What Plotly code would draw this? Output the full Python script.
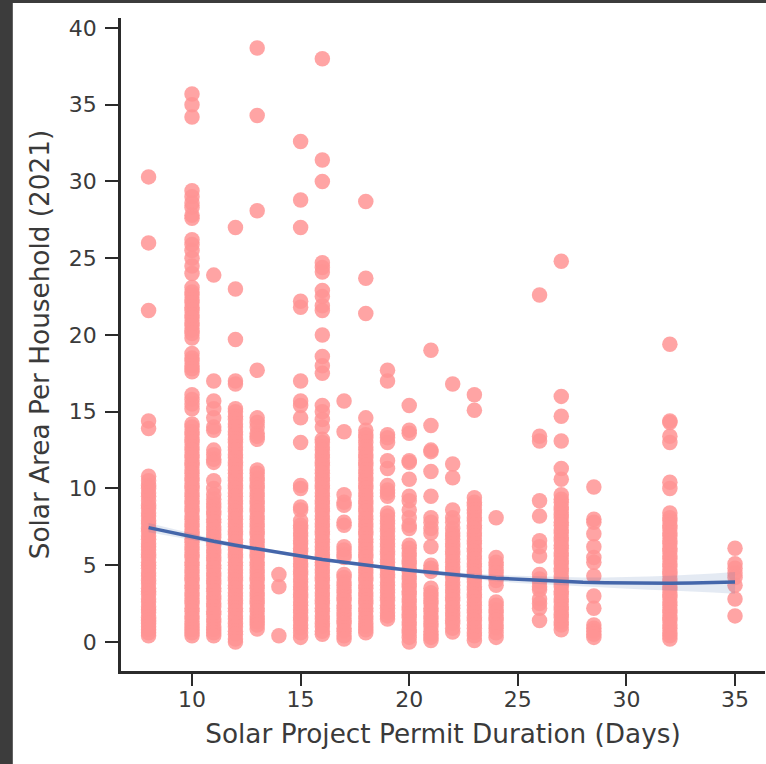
import plotly.graph_objects as go

durations = [8, 10, 11, 12, 13, 14, 15, 16, 17, 18, 19, 20, 21, 22, 23, 24, 26, 27, 28.5, 32, 35]

area_8 = [30.3, 26.0, 21.6, 14.4, 13.9, 10.8, 10.5, 10.2, 10.0, 9.7, 9.5, 9.2, 8.9, 8.7, 8.4, 8.2, 7.9, 7.7, 7.4, 7.2, 6.9, 6.7, 6.4, 6.2, 6.0, 5.7, 5.5, 5.2, 5.0, 4.8, 4.5, 4.3, 4.0, 3.8, 3.5, 3.3, 3.1, 2.8, 2.6, 2.3, 2.1, 1.9, 1.6, 1.4, 1.2, 1.0, 0.8, 0.6, 0.4]
area_10 = [35.7, 35.0, 34.2, 29.4, 29.0, 28.6, 28.3, 27.8, 27.6, 26.2, 25.9, 25.5, 25.0, 24.5, 24.0, 23.1, 22.8, 22.6, 22.3, 22.1, 21.8, 21.6, 21.3, 21.1, 20.8, 20.6, 20.3, 20.1, 19.8, 18.8, 18.5, 18.3, 18.0, 17.8, 17.6, 16.1, 15.8, 15.5, 15.2, 14.2, 14.0, 13.7, 13.5, 13.2, 13.0, 12.7, 12.5, 12.2, 12.0, 11.7, 11.5, 11.2, 11.0, 10.7, 10.5, 10.2, 10.0, 9.7, 9.5, 9.2, 9.0, 8.7, 8.5, 8.2, 8.0, 7.7, 7.5, 7.2, 7.0, 6.7, 6.5, 6.2, 6.0, 5.7, 5.5, 5.2, 5.0, 4.7, 4.5, 4.2, 4.0, 3.7, 3.5, 3.2, 3.0, 2.7, 2.5, 2.2, 2.0, 1.7, 1.5, 1.2, 1.0, 0.8, 0.6, 0.4]
area_11 = [23.9, 17.0, 15.7, 15.2, 14.6, 14.0, 13.8, 12.5, 12.2, 11.9, 11.7, 10.5, 10.0, 9.6, 9.3, 9.0, 8.8, 8.5, 8.3, 8.0, 7.8, 7.5, 7.3, 7.0, 6.8, 6.5, 6.3, 6.0, 5.8, 5.5, 5.3, 5.0, 4.8, 4.5, 4.3, 4.0, 3.8, 3.5, 3.3, 3.0, 2.8, 2.5, 2.3, 2.0, 1.8, 1.5, 1.3, 1.0, 0.8, 0.6, 0.4]
area_12 = [27.0, 23.0, 19.7, 17.0, 16.8, 15.2, 15.0, 14.7, 14.5, 14.2, 14.0, 13.7, 13.5, 13.2, 13.0, 12.7, 12.5, 12.2, 12.0, 11.7, 11.5, 11.2, 11.0, 10.7, 10.5, 10.2, 10.0, 9.7, 9.5, 9.2, 9.0, 8.7, 8.5, 8.2, 8.0, 7.7, 7.5, 7.2, 7.0, 6.7, 6.5, 6.2, 6.0, 5.7, 5.5, 5.2, 5.0, 4.7, 4.5, 4.2, 4.0, 3.7, 3.5, 3.2, 3.0, 2.7, 2.5, 2.2, 2.0, 1.7, 1.5, 1.2, 1.0, 0.7, 0.5, 0.2, 0.0]
area_13 = [38.7, 34.3, 28.1, 17.7, 14.6, 14.3, 14.0, 13.6, 13.4, 13.2, 11.2, 11.0, 10.7, 10.5, 10.2, 10.0, 9.7, 9.5, 9.2, 9.0, 8.7, 8.5, 8.2, 8.0, 7.7, 7.5, 7.2, 7.0, 6.7, 6.5, 6.2, 6.0, 5.7, 5.5, 5.2, 5.0, 4.7, 4.5, 4.2, 4.0, 3.7, 3.5, 3.2, 3.0, 2.7, 2.5, 2.2, 2.0, 1.7, 1.5, 1.3, 1.1, 0.85]
area_14 = [4.4, 3.6, 0.4]
area_15 = [32.6, 28.8, 27.0, 22.2, 21.8, 17.0, 15.7, 15.4, 14.6, 13.0, 10.2, 10.0, 8.8, 8.6, 7.9, 7.6, 7.4, 7.1, 6.9, 6.6, 6.4, 6.1, 5.9, 5.6, 5.4, 5.1, 4.9, 4.6, 4.4, 4.1, 3.9, 3.6, 3.4, 3.1, 2.9, 2.6, 2.4, 2.1, 1.9, 1.6, 1.4, 1.1, 0.9, 0.6, 0.3]
area_16 = [38.0, 31.4, 30.0, 24.7, 24.4, 24.1, 22.9, 22.5, 21.9, 21.6, 20.0, 18.6, 18.0, 17.5, 15.4, 15.0, 14.5, 14.0, 13.2, 13.0, 12.7, 12.5, 12.2, 12.0, 11.7, 11.5, 11.2, 11.0, 10.7, 10.5, 10.2, 10.0, 9.7, 9.5, 9.2, 9.0, 8.7, 8.5, 8.2, 8.0, 7.7, 7.5, 7.2, 7.0, 6.7, 6.5, 6.2, 6.0, 5.7, 5.5, 5.2, 5.0, 4.7, 4.5, 4.2, 4.0, 3.7, 3.5, 3.2, 3.0, 2.7, 2.5, 2.2, 2.0, 1.7, 1.5, 1.2, 1.0, 0.7, 0.5]
area_17 = [15.7, 13.7, 9.6, 9.1, 8.9, 7.8, 7.6, 6.2, 6.0, 5.7, 5.5, 4.4, 4.2, 3.9, 3.7, 3.4, 3.2, 2.9, 2.7, 2.4, 2.2, 1.9, 1.7, 1.4, 1.2, 0.9, 0.7, 0.4, 0.2]
area_18 = [28.7, 23.7, 21.4, 14.6, 13.8, 13.5, 13.3, 13.0, 12.7, 12.5, 12.2, 12.0, 11.7, 11.5, 11.2, 11.0, 10.7, 10.5, 10.2, 10.0, 9.7, 9.5, 9.2, 9.0, 8.7, 8.5, 8.2, 8.0, 7.7, 7.5, 7.2, 7.0, 6.7, 6.5, 6.2, 6.0, 5.7, 5.5, 5.2, 5.0, 4.7, 4.5, 4.2, 4.0, 3.7, 3.5, 3.2, 3.0, 2.7, 2.5, 2.2, 2.0, 1.7, 1.5, 1.2, 1.0, 0.8, 0.6]
area_19 = [17.7, 17.0, 13.5, 13.3, 13.0, 11.8, 11.3, 10.2, 9.9, 9.7, 9.5, 8.4, 8.2, 7.9, 7.7, 7.4, 7.2, 6.9, 6.7, 6.4, 6.2, 5.9, 5.7, 5.4, 5.2, 4.9, 4.7, 4.4, 4.2, 3.9, 3.7, 3.4, 3.2, 2.9, 2.7, 2.4, 2.2, 1.9, 1.7, 1.5]
area_20 = [15.4, 13.8, 13.6, 11.8, 11.7, 10.6, 9.5, 9.2, 8.6, 8.1, 7.6, 7.4, 6.3, 6.1, 5.8, 5.6, 5.3, 5.1, 4.8, 4.6, 4.3, 4.1, 3.8, 3.6, 3.3, 3.1, 2.8, 2.6, 2.3, 2.1, 1.8, 1.6, 1.3, 1.1, 0.8, 0.6, 0.3, 0.0]
area_21 = [19.0, 14.1, 12.5, 12.4, 11.1, 9.5, 8.1, 7.8, 7.4, 7.1, 6.2, 5.0, 4.8, 4.6, 3.5, 3.2, 3.0, 2.7, 2.5, 2.2, 2.0, 1.7, 1.5, 1.2, 1.0, 0.7, 0.5, 0.3, 0.1]
area_22 = [16.8, 11.6, 10.7, 8.6, 8.1, 7.8, 7.4, 7.1, 6.9, 6.7, 6.4, 6.2, 5.9, 5.7, 5.4, 5.2, 4.9, 4.7, 4.4, 4.2, 3.9, 3.7, 3.4, 3.2, 2.9, 2.7, 2.4, 2.2, 1.9, 1.7, 1.4, 1.2, 0.9, 0.65]
area_23 = [16.1, 15.1, 9.4, 9.1, 8.9, 8.6, 8.4, 8.1, 7.9, 7.6, 7.4, 7.1, 6.9, 6.6, 6.4, 6.1, 5.9, 5.6, 5.4, 5.1, 4.9, 4.6, 4.4, 4.1, 3.9, 3.6, 3.4, 3.1, 2.9, 2.6, 2.4, 2.1, 1.9, 1.6, 1.4, 1.1, 0.9, 0.6, 0.4, 0.1]
area_24 = [8.1, 5.5, 5.2, 5.0, 4.7, 4.5, 4.2, 4.0, 3.7, 2.6, 2.4, 2.1, 1.9, 1.6, 1.4, 1.1, 0.9, 0.6, 0.3]
area_26 = [22.6, 13.4, 13.1, 9.2, 8.2, 6.6, 6.2, 5.6, 4.4, 4.1, 3.9, 3.6, 3.4, 2.8, 2.5, 2.2, 1.4]
area_27 = [24.8, 16.0, 14.7, 13.1, 11.3, 10.6, 9.6, 9.3, 9.1, 8.8, 8.6, 8.3, 8.1, 7.8, 7.6, 7.3, 7.1, 6.8, 6.6, 6.3, 6.1, 5.8, 5.6, 5.3, 5.1, 4.8, 4.6, 4.3, 4.1, 3.8, 3.6, 3.3, 3.1, 2.8, 2.6, 2.3, 2.1, 1.8, 1.6, 1.3, 1.1, 0.8]
area_28_5 = [10.1, 8.0, 7.8, 7.05, 6.2, 5.5, 5.2, 4.3, 3.0, 2.2, 1.1, 0.9, 0.7, 0.5, 0.3]
area_32 = [19.4, 14.4, 14.3, 13.4, 13.0, 10.4, 10.0, 8.4, 8.1, 7.9, 7.6, 7.4, 7.1, 6.9, 6.6, 6.4, 6.1, 5.9, 5.6, 5.4, 5.1, 4.9, 4.6, 4.4, 4.1, 3.9, 3.6, 3.4, 3.1, 2.9, 2.6, 2.4, 2.1, 1.9, 1.6, 1.4, 1.1, 0.9, 0.6, 0.4, 0.2]
area_35 = [6.1, 5.1, 4.8, 4.5, 4.2, 3.7, 2.8, 1.7]

columns = [area_8, area_10, area_11, area_12, area_13, area_14, area_15, area_16, area_17, area_18, area_19,
           area_20, area_21, area_22, area_23, area_24, area_26, area_27, area_28_5, area_32, area_35]

fit_x = [8, 9, 10, 11, 12, 13, 14, 15, 16, 17, 18, 19, 20, 21, 22, 23, 24, 25, 26, 27, 28, 29, 30, 31, 32, 33, 34, 35]
fit_y = [7.45, 7.14, 6.84, 6.56, 6.3, 6.05, 5.82, 5.6, 5.38, 5.18, 5.0, 4.83, 4.67, 4.52, 4.38, 4.26, 4.16, 4.08, 4.0, 3.94, 3.89, 3.86, 3.84, 3.82, 3.82, 3.84, 3.86, 3.9]
fit_low = [7.15, 6.9, 6.65, 6.4, 6.15, 5.92, 5.7, 5.48, 5.27, 5.07, 4.89, 4.71, 4.54, 4.38, 4.22, 4.08, 3.95, 3.85, 3.75, 3.67, 3.6, 3.53, 3.47, 3.4, 3.35, 3.3, 3.22, 3.15]
fit_high = [7.75, 7.4, 7.03, 6.72, 6.45, 6.18, 5.94, 5.72, 5.49, 5.29, 5.11, 4.95, 4.8, 4.66, 4.54, 4.44, 4.37, 4.31, 4.26, 4.22, 4.2, 4.2, 4.22, 4.26, 4.32, 4.38, 4.46, 4.56]

x_label = "Solar Project Permit Duration (Days)"
y_label = "Solar Area Per Household (2021)"
x_ticks = [10, 15, 20, 25, 30, 35]
y_ticks = [0, 5, 10, 15, 20, 25, 30, 35, 40]

xs = [d for d, col in zip(durations, columns) for _ in col]
ys = [v for col in columns for v in col]

TEXT = "#3a3a3a"
AXIS = "#2b2b2b"

fig = go.Figure()
fig.add_trace(go.Scatter(x=xs, y=ys, mode="markers",
                         marker=dict(size=15.5, color="rgb(255,148,148)", opacity=0.85, line=dict(width=0)),
                         showlegend=False))
fig.add_trace(go.Scatter(x=fit_x + fit_x[::-1], y=fit_high + fit_low[::-1], mode="lines",
                         fill="toself", fillcolor="rgba(76,114,176,0.15)", line=dict(width=0),
                         showlegend=False))
fig.add_trace(go.Scatter(x=fit_x, y=fit_y, mode="lines", line=dict(color="#4466aa", width=3.5),
                         showlegend=False))

fig.update_layout(
    width=766, height=764,
    margin=dict(l=121, r=1, t=18, b=93, pad=0),
    paper_bgcolor="#3c3c3c",
    plot_bgcolor="rgba(0,0,0,0)",
    font=dict(family="DejaVu Sans", color=TEXT),
    shapes=[dict(type="rect", xref="paper", yref="paper", layer="below",
                 x0=-0.168, x1=1.01, y0=-0.15, y1=1.023,
                 fillcolor="white", line=dict(width=0))],
    xaxis=dict(range=[6.73, 36.38], tickvals=x_ticks, ticks="outside", ticklen=12, tickwidth=2,
               tickcolor=AXIS, showline=True, linewidth=2.5, linecolor=AXIS, showgrid=False, zeroline=False,
               tickfont=dict(size=22, color=TEXT), ticklabelstandoff=-5,
               title=dict(text=x_label, font=dict(size=26.3, color=TEXT), standoff=14)),
    yaxis=dict(range=[-1.89, 40.65], tickvals=y_ticks, ticks="outside", ticklen=13, tickwidth=2,
               tickcolor=AXIS, showline=True, linewidth=2.5, linecolor=AXIS, showgrid=False, zeroline=False,
               tickfont=dict(size=22, color=TEXT), ticklabelstandoff=4,
               title=dict(text=y_label, font=dict(size=26.3, color=TEXT), standoff=12)),
)
fig.write_html("out.html", config={"displayModeBar": False}, post_script="document.body.style.margin='0';")
